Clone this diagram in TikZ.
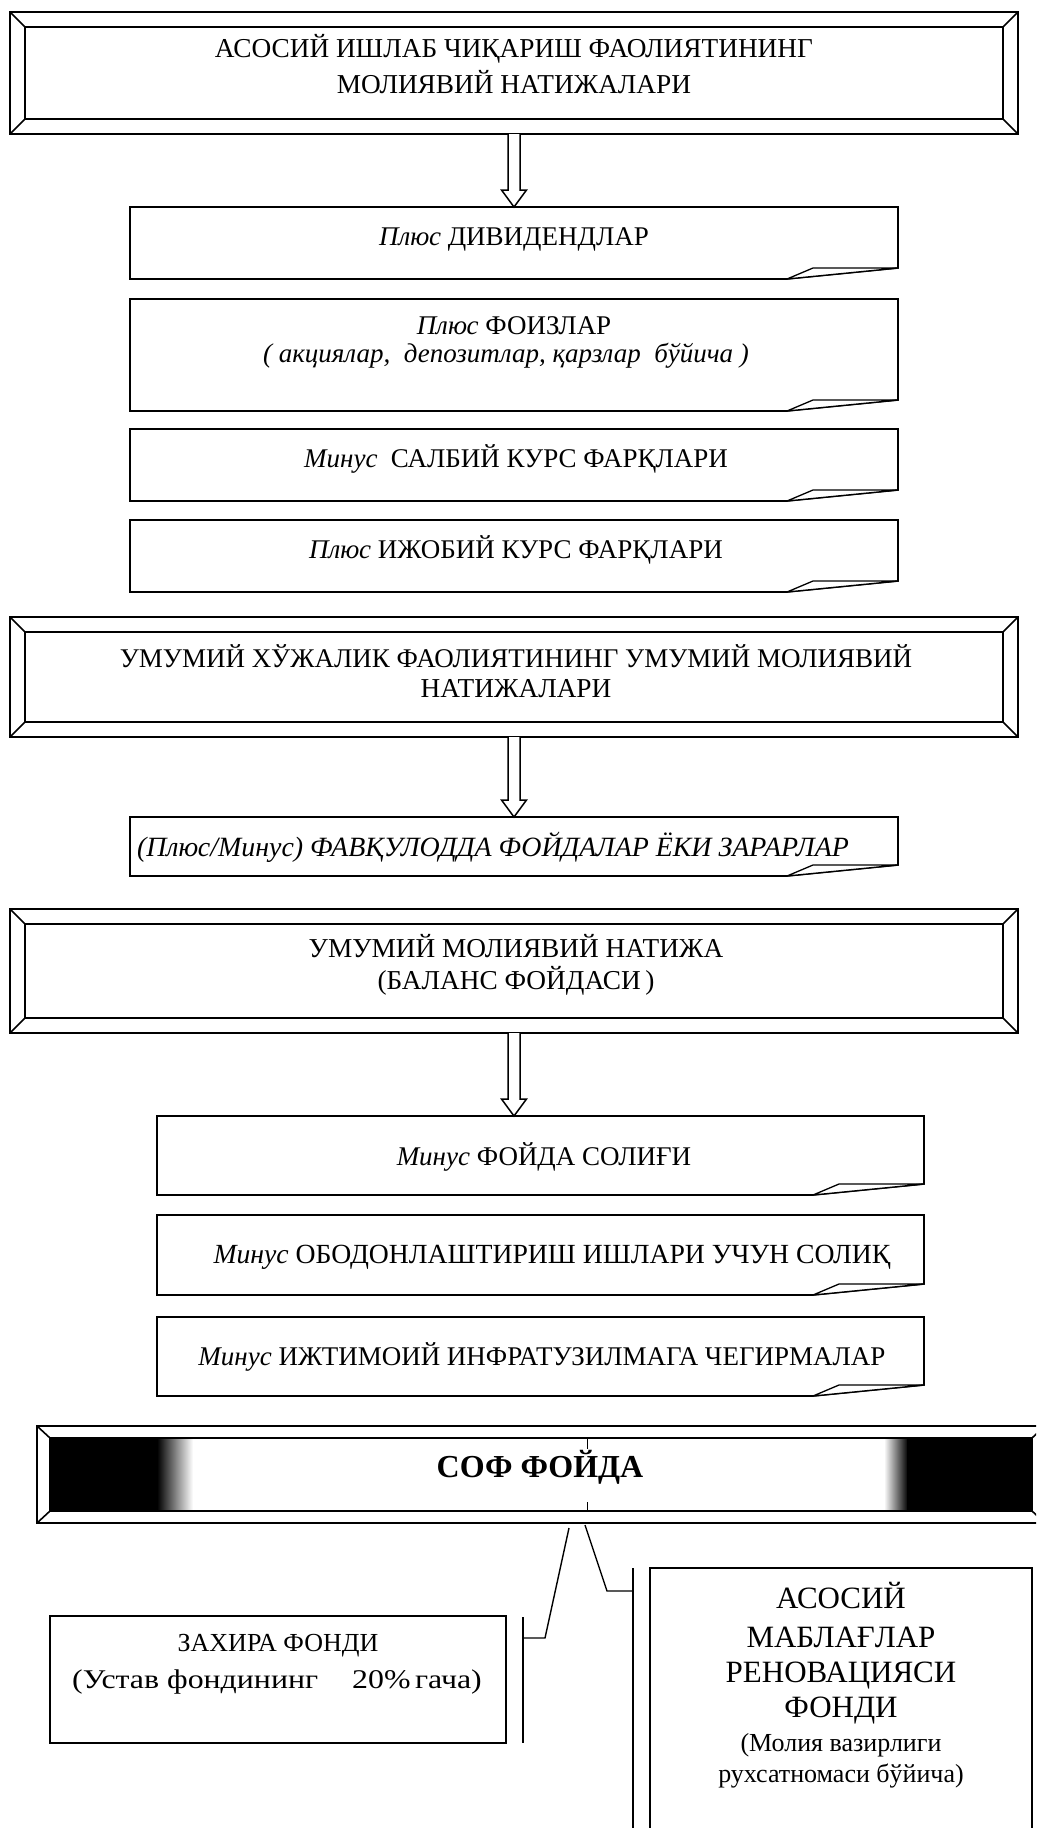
\documentclass[tikz,border=0pt]{standalone}
\usepackage{fontspec}
\setmainfont{Liberation Serif}
\newfontfamily\widefont{Liberation Serif}[FakeStretch=1.18]
\usetikzlibrary{calc}
\newcommand\curlbox[1]{%
  \draw[boxline,fill=white] (#1.north west) -- (#1.north east) -- ($(#1.south east)+(0,-11)$) -- ($(#1.south east)+(-111,0)$) -- (#1.south west) -- cycle;
  \draw[line width=1.3pt,line join=round,fill=white] ($(#1.south east)+(-111,0)$) -- ($(#1.south east)+(-85,-11)$) -- ($(#1.south east)+(0,-11)$) -- cycle;
}
\newcommand\bevelbox[2]{%
  \draw[boxline,fill=white] (#1.north west) rectangle (#1.south east);
  \draw[boxline] ($(#1.north west)+(#2,#2)$) rectangle ($(#1.south east)+(-#2,-#2)$);
  \draw[boxline] (#1.north west) -- ++(#2,#2);
  \draw[boxline] (#1.north east) -- ++(-#2,#2);
  \draw[boxline] (#1.south west) -- ++(#2,-#2);
  \draw[boxline] (#1.south east) -- ++(-#2,-#2);
}
\newcommand\hollowarrow[2]{%
  \draw[line width=1.5pt,fill=white] let \p1=(#1), \p2=(#2) in
    (\x1-6pt,\y1) -- (\x1-6pt,\y2+17pt) -- (\x1-12.5pt,\y2+17pt) -- (\x1,\y2)
    -- (\x1+12.5pt,\y2+17pt) -- (\x1+6pt,\y2+17pt) -- (\x1+6pt,\y1);
}
\begin{document}
\begin{tikzpicture}[x=1pt,y=-1pt,
  boxline/.style={line width=1.6pt},
  shapebox/.style={draw=none,inner sep=0pt,outer sep=0pt},
  txt/.style={inner sep=0pt,anchor=base,font=\fontsize{27}{32}\selectfont},
  bigtxt/.style={inner sep=0pt,anchor=base,font=\fontsize{27.3}{32}\selectfont},
  ]
\clip (0,0) rectangle (1036,1828);
\fill[white] (0,0) rectangle (1036,1828);

% ---------- shapes (nodes) ----------
\node[shapebox,minimum width=1008pt,minimum height=122pt] (b1) at (514,73) {};
\node[shapebox,minimum width=768pt,minimum height=72pt] (div) at (514,243) {};
\node[shapebox,minimum width=768pt,minimum height=112pt] (foiz) at (514,355) {};
\node[shapebox,minimum width=768pt,minimum height=72pt] (salb) at (514,465) {};
\node[shapebox,minimum width=768pt,minimum height=72pt] (ijob) at (514,556) {};
\node[shapebox,minimum width=1008pt,minimum height=120pt] (b2) at (514,677) {};
\node[shapebox,minimum width=768pt,minimum height=59pt] (pm) at (514,846.5) {};
\node[shapebox,minimum width=1008pt,minimum height=124pt] (b3) at (514,971) {};
\node[shapebox,minimum width=767pt,minimum height=79pt] (fs) at (540.5,1155.5) {};
\node[shapebox,minimum width=767pt,minimum height=80pt] (obod) at (540.5,1255) {};
\node[shapebox,minimum width=767pt,minimum height=79pt] (ijt) at (540.5,1356.5) {};
\node[shapebox,minimum width=1008pt,minimum height=97pt] (sof) at (541,1474.5) {};
\node[shapebox,minimum width=456pt,minimum height=127pt] (zah) at (278,1679.5) {};
\node[shapebox,minimum width=382pt,minimum height=304pt] (ren) at (841,1720) {};

\bevelbox{b1}{15}
\curlbox{div}
\curlbox{foiz}
\curlbox{salb}
\curlbox{ijob}
\bevelbox{b2}{15}
\curlbox{pm}
\bevelbox{b3}{15}
\curlbox{fs}
\curlbox{obod}
\curlbox{ijt}

% SOF box with dark ends
\draw[boxline,fill=white] (sof.north west) rectangle (sof.south east);
\fill[black] ($(sof.north west)+(13,12)$) rectangle (158,1511);
\shade[left color=black,right color=white] (157,1437) rectangle (193,1511);
\shade[left color=white,right color=black] (884,1437) rectangle (908,1511);
\fill[black] (907,1437) rectangle ($(sof.south east)+(-13,-12)$);
\draw[boxline] ($(sof.north west)+(13,12)$) rectangle ($(sof.south east)+(-13,-12)$);
\draw[boxline] (sof.north west) -- ++(13,12);
\draw[boxline] (sof.south west) -- ++(13,-12);
\draw[boxline] (sof.north east) -- ++(-13,12);
\draw[boxline] (sof.south east) -- ++(-13,-12);
\draw[line width=1pt] (587,1437) -- (587,1449);
\draw[line width=1pt] (587,1502) -- (587,1511);

% lower boxes
\draw[boxline] (zah.north west) rectangle (zah.south east);
\draw[boxline] (ren.south west) -- (ren.north west) -- (ren.north east) -- (ren.south east);

% ---------- arrows ----------
\hollowarrow{b1.south}{div.north}
\hollowarrow{b2.south}{pm.north}
\hollowarrow{b3.south}{b3.south |- fs.north}

% ---------- connectors from SOF ----------
\coordinate (sofL) at (569,1528);
\coordinate (sofR) at (585,1525);
\coordinate (zahB) at (523,1638);
\coordinate (zahT) at (523,1617);
\coordinate (zahE) at (523,1743);
\coordinate (renB) at (633,1591);
\coordinate (renT) at (633,1568);
\coordinate (renE) at (633,1840);
\draw[line width=1.4pt] (sofL) -- (545,1638) -- (zahB);
\draw[line width=1.4pt] (zahT) -- (zahE);
\draw[line width=1.4pt] (sofR) -- (607,1591) -- (renB);
\draw[line width=1.4pt] (renT) -- (renE);

% ---------- texts ----------
\node[bigtxt] (b1a) at (514,58) {АСОСИЙ ИШЛАБ ЧИҚАРИШ ФАОЛИЯТИНИНГ};
\node[bigtxt] (b1b) at (514,93) {МОЛИЯВИЙ НАТИЖАЛАРИ};
\node[txt] (divt) at (514,245) {\textit{Плюс} ДИВИДЕНДЛАР};
\node[txt] (foiza) at (514,334) {\textit{Плюс} ФОИЗЛАР};
\node[txt] (foizb) at (506,362) {\textit{( акциялар, \ депозитлар, қарзлар \ бўйича )}};
\node[txt] (salbt) at (516,467) {\textit{Минус}\ \ САЛБИЙ КУРС ФАРҚЛАРИ};
\node[txt] (ijobt) at (516,558) {\textit{Плюс} ИЖОБИЙ КУРС ФАРҚЛАРИ};
\node[bigtxt,font=\fontsize{27}{32}\selectfont] (b2a) at (516,667) {УМУМИЙ ХЎЖАЛИК ФАОЛИЯТИНИНГ УМУМИЙ МОЛИЯВИЙ};
\node[bigtxt] (b2b) at (516,697) {НАТИЖАЛАРИ};
\node[txt,font=\fontsize{27.9}{32}\selectfont] (pmt) at (493,856) {\textit{(Плюс/Минус) ФАВҚУЛОДДА ФОЙДАЛАР ЁКИ ЗАРАРЛАР}};
\node[bigtxt] (b3a) at (516,957) {УМУМИЙ МОЛИЯВИЙ НАТИЖА};
\node[bigtxt] (b3b) at (516,989) {(БАЛАНС ФОЙДАСИ\,)};
\node[txt] (fst) at (544,1165) {\textit{Минус} ФОЙДА СОЛИҒИ};
\node[txt,font=\fontsize{27.7}{32}\selectfont] (obodt) at (552,1263) {\textit{Минус} ОБОДОНЛАШТИРИШ ИШЛАРИ УЧУН СОЛИҚ};
\node[txt] (ijtt) at (542,1365) {\textit{Минус} ИЖТИМОИЙ ИНФРАТУЗИЛМАГА ЧЕГИРМАЛАР};
\node[inner sep=0pt,anchor=base,font=\fontsize{32}{36}\selectfont\bfseries] (soft) at (540,1477) {СОФ ФОЙДА};
\node[txt,font=\fontsize{26}{30}\selectfont] (zaha) at (278,1651) {ЗАХИРА ФОНДИ};
\node[txt,font=\widefont\fontsize{27}{30}\selectfont] (zahb) at (277,1688) {(Устав фондининг\hspace{34pt}20\%\,гача)};
\node[txt,font=\fontsize{31}{34}\selectfont] (r1) at (841,1608) {АСОСИЙ};
\node[txt,font=\fontsize{31}{34}\selectfont] (r2) at (841,1647) {МАБЛАҒЛАР};
\node[txt,font=\fontsize{31}{34}\selectfont] (r3) at (841,1682) {РЕНОВАЦИЯСИ};
\node[txt,font=\fontsize{31}{34}\selectfont] (r4) at (841,1717) {ФОНДИ};
\node[txt,font=\fontsize{26}{30}\selectfont] (r5) at (841,1751) {(Молия вазирлиги};
\node[txt,font=\fontsize{26}{30}\selectfont] (r6) at (841,1782) {рухсатномаси бўйича)};
\end{tikzpicture}
\end{document}
